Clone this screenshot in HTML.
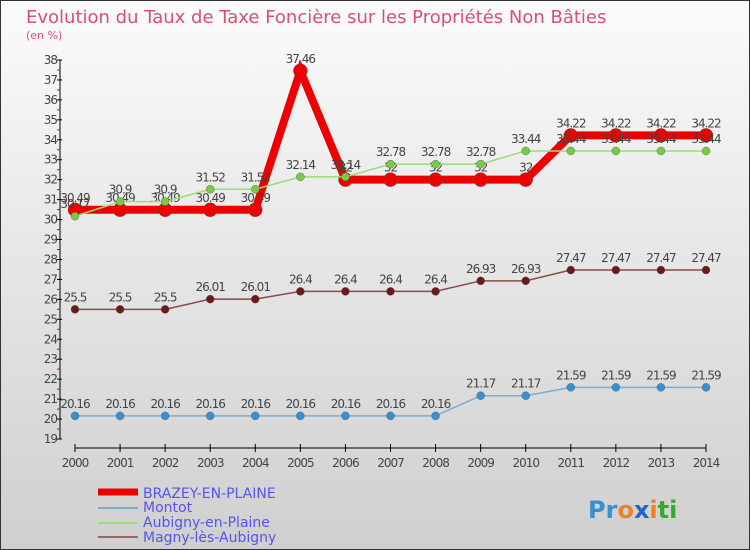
<!DOCTYPE html>
<html><head><meta charset="utf-8"><style>
body{margin:0;width:750px;height:550px;overflow:hidden;font-family:"DejaVu Sans","Liberation Sans",sans-serif}
svg{display:block}
</style></head><body>
<svg id="c" width="750" height="550" xmlns="http://www.w3.org/2000/svg">
<defs><linearGradient id="bg" x1="0" y1="0" x2="0" y2="1"><stop offset="0" stop-color="#fbfbfb"/><stop offset="1" stop-color="#cfcfcf"/></linearGradient></defs>
<rect x="0.5" y="0.5" width="749" height="549" fill="url(#bg)" stroke="#333"/>
<text x="26" y="23" font-size="18" fill="#d9506e">Evolution du Taux de Taxe Foncière sur les Propriétés Non Bâties</text>
<text x="26" y="39" font-size="11" fill="#d9506e">(en %)</text>
<g id="axes"></g><g id="series"></g>
<g font-size="14" fill="#5555ee">
<line x1="98" y1="492" x2="138" y2="492" stroke="#ee0000" stroke-width="7"/>
<text x="143" y="498" fill="#5555ee">BRAZEY-EN-PLAINE</text>
<line x1="98" y1="508" x2="138" y2="508" stroke="#7aaed0" stroke-width="2"/>
<text x="143" y="512" fill="#5555ee">Montot</text>
<line x1="98" y1="523" x2="138" y2="523" stroke="#99dd77" stroke-width="2"/>
<text x="143" y="527" fill="#5555ee">Aubigny-en-Plaine</text>
<line x1="98" y1="537" x2="138" y2="537" stroke="#996666" stroke-width="2"/>
<text x="143" y="542" fill="#5555ee">Magny-lès-Aubigny</text>
</g>
<text x="588" y="518" font-size="24" font-weight="bold"><tspan fill="#3a8fd0">Pr</tspan><tspan fill="#f08020">o</tspan><tspan fill="#2266cc">x</tspan><tspan fill="#f08020">i</tspan><tspan fill="#33aa33">ti</tspan></text>
</svg>
<script>
const years=[2000,2001,2002,2003,2004,2005,2006,2007,2008,2009,2010,2011,2012,2013,2014];
const yTicks=[19,20,21,22,23,24,25,26,27,28,29,30,31,32,33,34,35,36,37,38];
const montot=[20.16,20.16,20.16,20.16,20.16,20.16,20.16,20.16,20.16,21.17,21.17,21.59,21.59,21.59,21.59];
const magny=[25.5,25.5,25.5,26.01,26.01,26.4,26.4,26.4,26.4,26.93,26.93,27.47,27.47,27.47,27.47];
const aubigny=[30.17,30.9,30.9,31.52,31.52,32.14,32.14,32.78,32.78,32.78,33.44,33.44,33.44,33.44,33.44];
const brazey=[30.49,30.49,30.49,30.49,30.49,37.46,32,32,32,32,32,34.22,34.22,34.22,34.22];
const NS="http://www.w3.org/2000/svg";
const X=i=>75+i*(706-75)/(years.length-1);
const Y=v=>439-(v-19)*(439-60)/19;
function mk(t,a,p){const e=document.createElementNS(NS,t);for(const k in a)e.setAttribute(k,a[k]);p.appendChild(e);return e;}
const ax=document.getElementById('axes'),sg=document.getElementById('series');
const yl=mk('line',{x1:60,y1:60,x2:60,y2:439,stroke:'#000'},ax);


yTicks.forEach(t=>{
 mk('line',{x1:57,y1:Y(t),x2:62,y2:Y(t),stroke:'#000'},ax);
 if(t<38)mk('line',{x1:57,y1:Y(t+0.5),x2:60,y2:Y(t+0.5),stroke:'#e00'},ax);
 const tx=mk('text',{x:57,y:Y(t)+4,'font-size':12,'text-anchor':'end',fill:'#444','letter-spacing':'-1'},ax);
 tx.textContent=t;
 
 
});
const xl=mk('line',{x1:X(0),y1:448,x2:X(14),y2:448,stroke:'#000'},ax);


years.forEach((yr,i)=>{
 mk('line',{x1:X(i),y1:444,x2:X(i),y2:452,stroke:'#000'},ax);
 const tx=mk('text',{x:X(i),y:467,'font-size':12,'text-anchor':'middle',fill:'#444','letter-spacing':'-1'},ax);
 tx.textContent=yr;
 
 
});
function series(vals,color,w,r,name,dot){
 const g=mk('g',{},sg);
 
 
 const pl=mk('polyline',{points:vals.map((v,i)=>X(i)+','+Y(v)).join(' '),fill:'none',stroke:color,'stroke-width':w},g);
 
 
 vals.forEach((v,i)=>{
  const c=mk('circle',{cx:X(i),cy:Y(v),r:r,fill:dot,stroke:'#555','stroke-width':0.4},g);
  
  
  const t=mk('text',{x:X(i),y:Y(v)-8,'font-size':12,'text-anchor':'middle',fill:'#444','letter-spacing':'-1'},g);
  t.textContent=v;
  
  
 });
}
series(montot,'#7aaed0',1.5,4,'montot','#3a8fd0');
series(magny,'#8a4a4a',1.5,4,'magny','#6a1a1a');
series(brazey,'#ee0000',8,7,'brazey','#ee0000');
series(aubigny,'#99dd77',1.5,4,'aubigny','#77cc44');
</script>
</body></html>
